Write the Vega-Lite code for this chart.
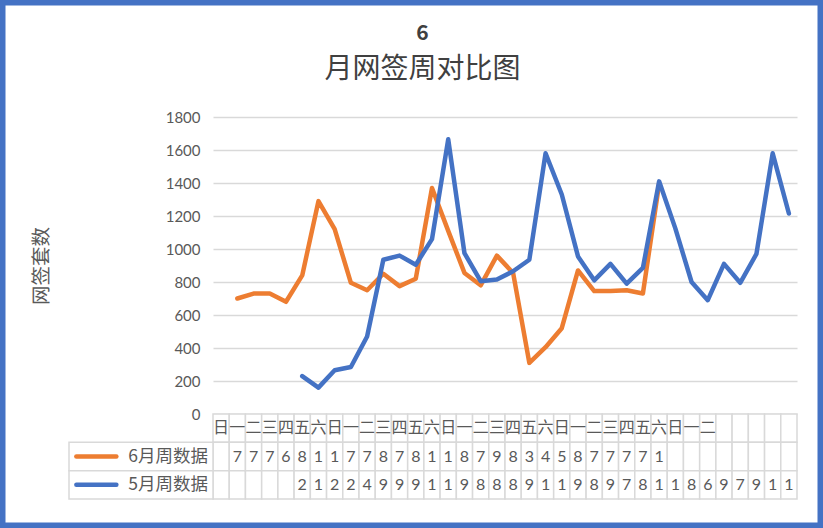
{
  "$schema": "https://vega.github.io/schema/vega-lite/v6.json",
  "width": 823,
  "height": 528,
  "autosize": {"type": "none"},
  "padding": 0,
  "background": "white",
  "title": {
    "text": "6",
    "subtitle": "月网签周对比图",
    "anchor": "middle",
    "frame": "group",
    "orient": "top",
    "offset": -84,
    "dx": 11,
    "font": "Noto Sans CJK SC",
    "fontSize": 21,
    "fontWeight": "bold",
    "color": "#404040",
    "subtitleFont": "Noto Sans CJK SC",
    "subtitleFontSize": 28,
    "subtitleColor": "#404040",
    "subtitlePadding": 12
  },
  "datasets": {
    "weeks": [
      {"col": 1, "星期": "日", "6月周数据": null, "5月周数据": null},
      {"col": 2, "星期": "一", "6月周数据": 700, "5月周数据": null},
      {"col": 3, "星期": "二", "6月周数据": 730, "5月周数据": null},
      {"col": 4, "星期": "三", "6月周数据": 730, "5月周数据": null},
      {"col": 5, "星期": "四", "6月周数据": 680, "5月周数据": null},
      {"col": 6, "星期": "五", "6月周数据": 840, "5月周数据": 230},
      {"col": 7, "星期": "六", "6月周数据": 1290, "5月周数据": 160},
      {"col": 8, "星期": "日", "6月周数据": 1120, "5月周数据": 265},
      {"col": 9, "星期": "一", "6月周数据": 795, "5月周数据": 285},
      {"col": 10, "星期": "二", "6月周数据": 750, "5月周数据": 470},
      {"col": 11, "星期": "三", "6月周数据": 850, "5月周数据": 935},
      {"col": 12, "星期": "四", "6月周数据": 775, "5月周数据": 960},
      {"col": 13, "星期": "五", "6月周数据": 820, "5月周数据": 905},
      {"col": 14, "星期": "六", "6月周数据": 1370, "5月周数据": 1060},
      {"col": 15, "星期": "日", "6月周数据": 1110, "5月周数据": 1665},
      {"col": 16, "星期": "一", "6月周数据": 855, "5月周数据": 975},
      {"col": 17, "星期": "二", "6月周数据": 780, "5月周数据": 805},
      {"col": 18, "星期": "三", "6月周数据": 960, "5月周数据": 815},
      {"col": 19, "星期": "四", "6月周数据": 855, "5月周数据": 865},
      {"col": 20, "星期": "五", "6月周数据": 310, "5月周数据": 935},
      {"col": 21, "星期": "六", "6月周数据": 405, "5月周数据": 1580},
      {"col": 22, "星期": "日", "6月周数据": 520, "5月周数据": 1330},
      {"col": 23, "星期": "一", "6月周数据": 870, "5月周数据": 955},
      {"col": 24, "星期": "二", "6月周数据": 745, "5月周数据": 810},
      {"col": 25, "星期": "三", "6月周数据": 745, "5月周数据": 910},
      {"col": 26, "星期": "四", "6月周数据": 750, "5月周数据": 790},
      {"col": 27, "星期": "五", "6月周数据": 730, "5月周数据": 885},
      {"col": 28, "星期": "六", "6月周数据": 1395, "5月周数据": 1410},
      {"col": 29, "星期": "日", "6月周数据": null, "5月周数据": 1125},
      {"col": 30, "星期": "一", "6月周数据": null, "5月周数据": 800},
      {"col": 31, "星期": "二", "6月周数据": null, "5月周数据": 690},
      {"col": 32, "星期": null, "6月周数据": null, "5月周数据": 910},
      {"col": 33, "星期": null, "6月周数据": null, "5月周数据": 795},
      {"col": 34, "星期": null, "6月周数据": null, "5月周数据": 970},
      {"col": 35, "星期": null, "6月周数据": null, "5月周数据": 1580},
      {"col": 36, "星期": null, "6月周数据": null, "5月周数据": 1215}
    ],
    "series": [
      {"series": "6月周数据"},
      {"series": "5月周数据"}
    ]
  },
  "layer": [
    {
      "data": {"name": "weeks"},
      "transform": [{"fold": ["星期", "6月周数据", "5月周数据"], "as": ["row", "v"]}],
      "mark": {"type": "rect", "fill": "white", "stroke": "#d9d9d9", "strokeWidth": 1.5},
      "encoding": {
        "x": {
          "field": "col",
          "type": "ordinal",
          "scale": {"type": "band", "range": [213, 797], "paddingInner": 0, "paddingOuter": 0},
          "axis": null
        },
        "y": {
          "field": "row",
          "type": "nominal",
          "scale": {"domain": ["星期", "6月周数据", "5月周数据"], "range": [414, 499], "paddingInner": 0, "paddingOuter": 0},
          "axis": null
        }
      }
    },
    {
      "data": {"name": "series"},
      "mark": {"type": "rect", "fill": "white", "stroke": "#d9d9d9", "strokeWidth": 1.5},
      "encoding": {
        "x": {
          "datum": "图例",
          "type": "nominal",
          "scale": {"type": "band", "range": [69, 213], "paddingInner": 0, "paddingOuter": 0},
          "axis": null
        },
        "y": {
          "field": "series",
          "type": "nominal",
          "scale": {"domain": ["星期", "6月周数据", "5月周数据"], "range": [414, 499], "paddingInner": 0, "paddingOuter": 0},
          "axis": null
        }
      }
    },
    {
      "data": {"name": "series"},
      "mark": {"type": "point", "shape": "stroke", "filled": false, "size": 1600, "strokeWidth": 4.5, "strokeCap": "round", "opacity": 1},
      "encoding": {
        "x": {
          "datum": "图例",
          "type": "nominal",
          "bandPosition": 0.19,
          "scale": {"type": "band", "range": [69, 213], "paddingInner": 0, "paddingOuter": 0},
          "axis": null
        },
        "y": {
          "field": "series",
          "type": "nominal",
          "bandPosition": 0.5,
          "scale": {"type": "band", "domain": ["星期", "6月周数据", "5月周数据"], "range": [414, 499], "paddingInner": 0, "paddingOuter": 0},
          "axis": null
        },
        "color": {"field": "series", "type": "nominal", "legend": null}
      }
    },
    {
      "data": {"name": "series"},
      "mark": {"type": "text", "align": "right", "baseline": "middle", "font": "Noto Sans CJK SC", "fontSize": 17.5, "color": "#595959"},
      "encoding": {
        "x": {
          "datum": "图例",
          "type": "nominal",
          "bandPosition": 0.965,
          "scale": {"type": "band", "range": [69, 213], "paddingInner": 0, "paddingOuter": 0},
          "axis": null
        },
        "y": {
          "field": "series",
          "type": "nominal",
          "bandPosition": 0.5,
          "scale": {"type": "band", "domain": ["星期", "6月周数据", "5月周数据"], "range": [414, 499], "paddingInner": 0, "paddingOuter": 0},
          "axis": null
        },
        "text": {"field": "series", "type": "nominal"}
      }
    },
    {
      "data": {"name": "weeks"},
      "transform": [
        {"fold": ["星期", "6月周数据", "5月周数据"], "as": ["row", "v"]},
        {"filter": "isValid(datum.v)"}
      ],
      "mark": {"type": "text", "align": "center", "baseline": "middle", "font": "Lato, Noto Sans CJK SC", "fontSize": 16, "color": "#595959", "limit": 17, "ellipsis": "\u200b"},
      "encoding": {
        "x": {
          "field": "col",
          "type": "ordinal",
          "bandPosition": 0.5,
          "scale": {"type": "band", "range": [213, 797], "paddingInner": 0, "paddingOuter": 0},
          "axis": null
        },
        "y": {
          "field": "row",
          "type": "nominal",
          "bandPosition": 0.5,
          "scale": {"type": "band", "domain": ["星期", "6月周数据", "5月周数据"], "range": [414, 499], "paddingInner": 0, "paddingOuter": 0},
          "axis": null
        },
        "text": {"field": "v", "type": "nominal"}
      }
    },
    {
      "data": {"name": "weeks"},
      "transform": [
        {"fold": ["6月周数据", "5月周数据"], "as": ["series", "v"]},
        {"filter": "isValid(datum.v)"}
      ],
      "mark": {"type": "line", "strokeWidth": 4.5, "strokeCap": "round", "strokeJoin": "round"},
      "encoding": {
        "x": {
          "field": "col",
          "type": "ordinal",
          "scale": {
            "type": "point",
            "domain": [1, 2, 3, 4, 5, 6, 7, 8, 9, 10, 11, 12, 13, 14, 15, 16, 17, 18, 19, 20, 21, 22, 23, 24, 25, 26, 27, 28, 29, 30, 31, 32, 33, 34, 35, 36],
            "range": [213, 797],
            "padding": 0.5
          },
          "axis": null
        },
        "y": {
          "field": "v",
          "type": "quantitative",
          "scale": {"domain": [0, 1800], "range": [414, 117], "nice": false, "zero": false},
          "axis": {
            "orient": "left",
            "values": [0, 200, 400, 600, 800, 1000, 1200, 1400, 1600, 1800],
            "format": "d",
            "grid": true,
            "gridColor": "#d9d9d9",
            "gridWidth": 1.3,
            "domain": false,
            "ticks": false,
            "tickSize": 0,
            "labelPadding": 0,
            "offset": -200,
            "labelFont": "Lato",
            "labelFontSize": 15,
            "labelColor": "#595959",
            "title": "网签套数",
            "titleFont": "Noto Sans CJK SC",
            "titleFontSize": 19.5,
            "titleFontWeight": "normal",
            "titleColor": "#595959",
            "titlePadding": 114
          }
        },
        "color": {
          "field": "series",
          "type": "nominal",
          "scale": {"domain": ["6月周数据", "5月周数据"], "range": ["#ED7D31", "#4472C4"]},
          "legend": null
        }
      }
    }
  ],
  "resolve": {"scale": {"x": "independent", "y": "independent"}},
  "config": {
    "view": {"stroke": "#4472C4", "strokeWidth": 11, "fill": "white"}
  }
}
